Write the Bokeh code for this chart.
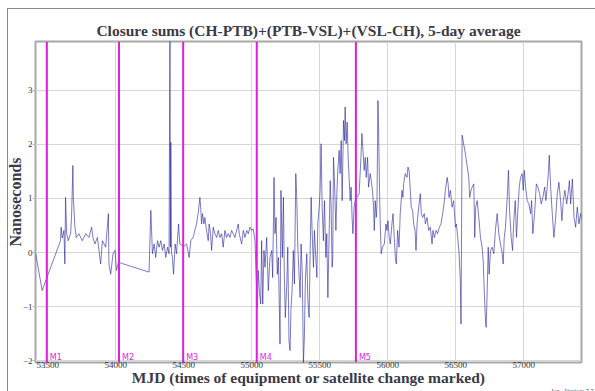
from bokeh.plotting import figure
from bokeh.models import Span, Label, FixedTicker, Range1d, Title
from bokeh.embed import file_html
from bokeh.resources import INLINE

# ---- data (MJD, nanoseconds) ----
mjd_a = [53410, 53459, 53594, 53598, 53607, 53619, 53626, 53631, 53639, 53651, 53668, 53675, 53685, 53688,
         53700, 53710, 53729, 53754, 53779, 53803, 53823, 53832, 53847, 53865, 53877, 53889, 53902, 53926,
         53946, 53950, 53963, 53980, 53995, 54005, 54020]
ns_a = [0.00, -0.70, 0.22, 0.47, 0.27, 0.41, -0.21, 1.02, 0.35, 0.22, 0.35, 0.65, 1.61, 1.04,
        0.47, 0.28, 0.35, 0.22, 0.35, 0.28, 0.47, 0.28, 0.16, 0.28, 0.04, -0.21, 0.22, 0.10,
        0.72, -0.21, -0.40, -0.02, 0.04, -0.33, -0.18]

mjd_b = [54245, 54258, 54270, 54282, 54294, 54307, 54319, 54331, 54344, 54356, 54368, 54381, 54392, 54399,
         54402, 54405, 54410, 54417, 54425, 54437, 54447, 54462, 54471, 54491]
ns_b = [-0.36, 0.78, -0.02, 0.16, -0.09, 0.22, 0.10, 0.22, 0.04, 0.16, -0.09, 0.10, -0.02, 4.5,
        0.10, 2.04, 0.00, -0.09, -0.40, 0.16, -0.02, 0.53, 0.16, 0.13]

mjd_c = [54496, 54521, 54540, 54552, 54569, 54582, 54594, 54606, 54619, 54626, 54631, 54638, 54648, 54655,
         54668, 54680, 54687, 54697, 54705, 54717, 54729, 54742, 54754, 54766, 54779, 54790, 54803, 54815,
         54827, 54840, 54852, 54864, 54876, 54889, 54901, 54908, 54926, 54938, 54950, 54963, 54975, 54987,
         54999, 55011, 55024]
ns_c = [0.10, 0.16, -0.09, 0.22, 0.28, 0.41, 0.53, 0.72, 1.02, 0.78, 0.53, 0.72, 0.53, 0.65,
        0.41, 0.22, 0.53, 0.35, 0.04, 0.47, 0.35, 0.28, 0.41, 0.28, 0.35, 0.10, 0.41, 0.28,
        0.35, 0.28, 0.41, 0.35, 0.28, 0.41, 0.53, 0.35, 0.16, 0.41, 0.28, 0.41, 0.35, 0.47,
        0.41, 0.44, 0.22]

mjd_d = [55041, 55048, 55056, 55066, 55073, 55081, 55090, 55098, 55110, 55122, 55134, 55147, 55154, 55164,
         55171, 55179, 55188, 55196, 55208, 55215, 55225, 55233, 55240, 55247, 55258, 55265, 55274, 55282,
         55289, 55297, 55306, 55314, 55324, 55331, 55339, 55348, 55356, 55363, 55372, 55380, 55387, 55395,
         55405, 55412, 55422, 55429, 55437, 55444, 55454, 55461, 55471, 55479, 55486, 55496, 55503, 55510,
         55518, 55527, 55535, 55545, 55552, 55560, 55567, 55577, 55584, 55591, 55596, 55601, 55608, 55619,
         55626, 55633, 55643, 55650, 55658, 55665, 55675, 55682, 55687, 55694, 55702, 55709, 55716, 55724,
         55731, 55738, 55744, 55753, 55761, 55773, 55790]
ns_d = [-1.01, -0.33, -0.70, -0.95, 0.22, -0.95, 0.04, -0.27, 0.28, -0.70, -0.09, 0.04, -0.46, 1.39,
        0.35, 0.65, -0.40, -0.09, -1.69, 1.15, -0.09, 1.02, -0.46, -1.20, -0.58, 0.10, -1.63, -1.81,
        -1.01, -0.70, 0.04, -0.58, 1.46, 1.02, 0.10, -0.40, -0.83, 0.16, -0.40, -2.05, -1.57, -0.46,
        -0.02, -0.83, -1.20, -0.09, 1.02, 0.41, -0.27, 0.41, -0.09, -0.46, 0.53, 0.84, 1.15, 2.01,
        0.84, 0.22, 0.96, -0.09, 0.35, -0.83, 0.04, 1.33, 0.84, -0.27, -0.09, 1.76, 1.39, 0.41,
        1.09, 1.52, 1.89, 1.46, 2.07, 0.96, 2.44, 2.07, 2.69, 2.01, 2.41, 1.76, 1.39, 0.96,
        1.21, 0.65, 0.35, 0.84, 0.96, 1.02, 1.09]

mjd_e = [55803, 55810, 55818, 55827, 55835, 55842, 55852, 55859, 55871, 55879, 55888, 55896, 55901, 55908,
         55916, 55921, 55928, 55933, 55940, 55945, 55952, 55962, 55975, 55987, 55994, 56002, 56011, 56019,
         56031, 56039, 56048, 56056, 56063, 56073, 56083, 56092, 56105, 56112, 56117, 56129, 56142, 56149,
         56157, 56166, 56173, 56183, 56191, 56201, 56208, 56216, 56228, 56240, 56247, 56257, 56269, 56277,
         56289, 56301, 56313, 56326, 56333, 56343, 56356, 56367, 56380, 56392, 56404, 56417, 56424, 56437,
         56444, 56451, 56461, 56473, 56485, 56498, 56505, 56515, 56525, 56534, 56539]
ns_e = [1.76, 2.20, 1.89, 1.52, 1.76, 1.39, 1.76, 1.21, 1.46, 1.33, 1.15, 0.84, 0.41, 0.96,
        0.65, 0.90, 2.81, 2.26, 1.15, 0.53, -0.02, 0.10, 0.16, 0.53, 0.41, 0.59, 0.28, 0.16,
        0.53, 0.72, 0.28, -0.09, -0.21, 0.41, 0.10, 0.72, 1.15, 1.02, 1.27, 1.46, 1.39, 1.58,
        1.52, 1.15, 0.84, 0.78, 0.53, 0.41, 0.04, 0.53, 0.84, 1.09, 0.72, 0.65, 0.72, 0.53,
        0.65, 0.41, 0.47, 0.16, 0.41, 0.28, 0.41, 0.35, 0.47, 0.53, 0.72, 0.96, 1.15, 1.39,
        1.27, 1.02, 1.15, 0.84, 0.96, 0.47, 0.53, 0.28, -0.02, -0.52, -1.32]

mjd_f = [56547, 56571, 56596, 56603, 56613, 56621, 56633, 56640, 56647, 56658, 56665, 56672, 56682, 56694,
         56702, 56711, 56719, 56724, 56731, 56739, 56746, 56756, 56768, 56780, 56792, 56805, 56817, 56829,
         56842, 56849, 56857, 56866, 56879, 56888, 56896, 56908, 56918, 56927, 56938, 56947, 56957, 56967,
         56977, 56989, 56997, 57004, 57014, 57026, 57038, 57051, 57058, 57067, 57080, 57093, 57104, 57117,
         57129, 57141, 57154, 57163, 57173, 57181, 57188, 57198, 57210, 57222, 57235, 57247, 57259, 57271,
         57281, 57291, 57303, 57316, 57326, 57336, 57345, 57358, 57370, 57382, 57394, 57406, 57419, 57431]
ns_f = [2.17, 1.83, 1.39, 1.02, 1.15, 1.21, 1.27, 0.28, 0.84, 0.96, 0.78, 0.59, 0.28, 0.10,
        -0.15, -0.77, -1.26, -1.38, -0.77, 0.10, -0.40, 0.04, 0.10, -0.02, 0.41, 0.72, 0.35, 0.16,
        -0.02, -0.21, 0.28, 0.47, 1.02, 1.52, 0.78, 0.28, 0.04, 0.59, 0.96, 0.28, 0.78, 1.21,
        1.39, 1.46, 1.15, 1.52, 1.21, 0.96, 0.90, 0.72, 0.96, 0.35, 0.72, 1.27, 1.21, 1.09,
        0.90, 1.02, 1.21, 0.96, 1.21, 1.46, 1.80, 1.21, 0.72, 0.28, 0.65, 1.09, 1.30, 0.96,
        0.59, 0.96, 1.15, 0.90, 1.09, 1.33, 0.90, 1.36, 0.65, 0.47, 0.84, 0.53, 0.72, 0.59]

marker_names = ["M1", "M2", "M3", "M4", "M5"]
marker_mjd = [53493, 54024, 54496, 55037, 55766]

x_ticks = [53500, 54000, 54500, 55000, 55500, 56000, 56500, 57000]
y_ticks = [-2, -1, 0, 1, 2, 3]

title_text = "Closure sums (CH-PTB)+(PTB-VSL)+(VSL-CH), 5-day average"
x_label_text = "MJD (times of equipment or satellite change marked)"
y_label_text = "Nanoseconds"
version_text = "Ion - Version: 7.7"

mjd = mjd_a + mjd_b + mjd_c + mjd_d + mjd_e + mjd_f
ns = ns_a + ns_b + ns_c + ns_d + ns_e + ns_f

SERIF = "Liberation Serif"
TXT = "#3a3a48"
MAG = "#e01ee0"
FRAME_GRAY = "#8a8a8a"

p = figure(width=592, height=383, output_backend="svg", toolbar_location=None,
           x_range=Range1d(53410, 57425), y_range=Range1d(-2.03, 3.9),
           min_border_left=31, min_border_right=14, min_border_top=33, min_border_bottom=29,
           background_fill_color="white", border_fill_color=None)
# outer page frame (top and left edges), drawn behind the transparent canvas border
p.styles = {
    "margin-left": "3px", "margin-top": "8px",
    "background-color": "white",
    "background-image": f"linear-gradient({FRAME_GRAY}, {FRAME_GRAY}), linear-gradient({FRAME_GRAY}, {FRAME_GRAY})",
    "background-size": "1px 100%, 100% 1px",
    "background-position": "4px 0px, 4px 0px",
    "background-repeat": "no-repeat",
}

p.title.text = title_text
p.title.align = "center"
p.title.text_font = SERIF
p.title.text_font_size = "15.5px"
p.title.text_font_style = "bold"
p.title.text_color = TXT
p.title.standoff = 5

p.outline_line_color = "#a8a8a8"
p.outline_line_width = 2

for ax in (p.xaxis[0], p.yaxis[0]):
    ax.axis_line_color = None
    ax.major_tick_in = 0
    ax.major_tick_line_color = "#b8b8b8"
    ax.minor_tick_in = 0
    ax.minor_tick_out = 0
    ax.major_label_text_font = SERIF
    ax.major_label_text_font_size = "9px"
    ax.major_label_text_color = "#333333"
    ax.axis_label_text_font = SERIF
    ax.axis_label_text_font_style = "bold"
    ax.axis_label_text_color = TXT

p.xaxis[0].ticker = FixedTicker(ticks=x_ticks)
p.xaxis[0].major_tick_out = 0
p.xaxis[0].major_label_standoff = -1
p.xaxis[0].axis_label = x_label_text
p.xaxis[0].axis_label_text_font_size = "15.5px"
p.xaxis[0].axis_label_standoff = -2

p.yaxis[0].ticker = FixedTicker(ticks=y_ticks)
p.yaxis[0].major_tick_out = 3
p.yaxis[0].major_label_standoff = 0
p.yaxis[0].axis_label = y_label_text
p.yaxis[0].axis_label_text_font_size = "16px"
p.yaxis[0].axis_label_standoff = -4

p.xgrid.grid_line_color = "#d6d6d6"
p.ygrid.grid_line_color = "#d6d6d6"
p.xgrid.ticker = FixedTicker(ticks=x_ticks)
p.ygrid.ticker = FixedTicker(ticks=y_ticks)

p.line(mjd, ns, line_color="#23239a", line_alpha=0.6, line_width=1)

for name, m in zip(marker_names, marker_mjd):
    p.add_layout(Span(location=m, dimension="height", line_color=MAG, line_width=2))
    p.add_layout(Label(x=m, y=-1.93, text=name, x_offset=3, text_font="DejaVu Sans",
                       text_font_size="8px", text_color=MAG, text_baseline="middle"))

p.add_layout(Title(text=version_text, align="right", offset=-12, standoff=-10,
                   text_font=SERIF, text_font_size="6px", text_font_style="normal",
                   text_color="#555555"), "below")

open("out.html", "w").write(file_html(p, INLINE))
